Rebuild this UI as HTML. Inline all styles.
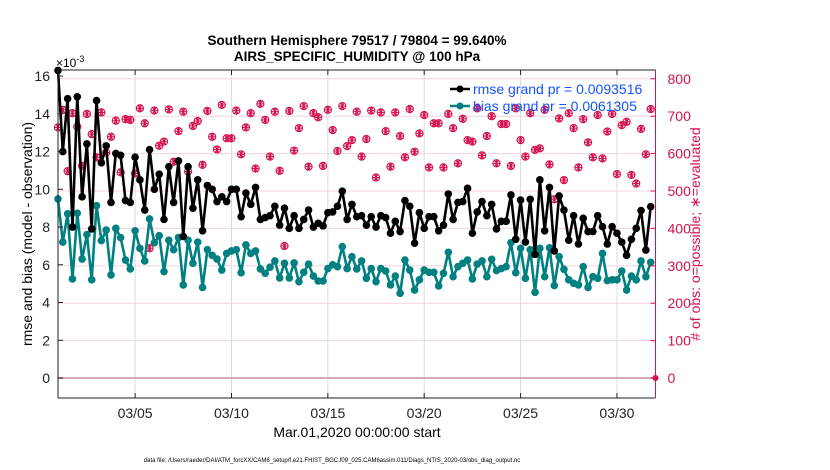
<!DOCTYPE html>
<html><head><meta charset="utf-8"><style>
html,body{margin:0;padding:0;background:#fff}
svg{display:block;font-family:"Liberation Sans",Arial,sans-serif}
</style></head><body>
<svg id="chart" width="830" height="470" viewBox="0 0 830 470" xmlns="http://www.w3.org/2000/svg">
<g id="grid"></g>
<g id="series"></g>
<g id="axes"></g>
<text x="357" y="45" text-anchor="middle" font-size="13.5" font-weight="bold">Southern Hemisphere 79517 / 79804 = 99.640%</text>
<text x="357" y="61" text-anchor="middle" font-size="13.5" font-weight="bold">AIRS_SPECIFIC_HUMIDITY @ 100 hPa</text>
<text x="56" y="67" font-size="12">×10<tspan dy="-5" font-size="9">-3</tspan></text>
<text transform="translate(32,234) rotate(-90)" text-anchor="middle" font-size="14">rmse and bias (model - observation)</text>
<text transform="translate(700,234) rotate(-90)" text-anchor="middle" font-size="14" fill="#d4124e"># of obs: o=possible; ∗=evaluated</text>
<text x="357" y="437" text-anchor="middle" font-size="14">Mar.01,2020 00:00:00 start</text>
<text x="332" y="462" text-anchor="middle" font-size="6">data file: /Users/raeder/DAI/ATM_forcXX/CAM6_setup/f.e21.FHIST_BGC.f09_025.CAM6assim.011/Diags_NTrS_2020-03/obs_diag_output.nc</text>
<g>
<line x1="450" y1="89" x2="470" y2="89" stroke="#000" stroke-width="2.5"/><circle cx="460" cy="89" r="3.5" fill="#000"/>
<text x="473" y="94" font-size="14" fill="#1452ff">rmse grand pr = 0.0093516</text>
<line x1="450" y1="106" x2="470" y2="106" stroke="#008080" stroke-width="2.5"/><circle cx="460" cy="106" r="3.5" fill="#008080"/>
<text x="473" y="111" font-size="14" fill="#1452ff">bias grand pr = 0.0061305</text>
</g>
</svg>
<script>
const rmse=[16.3,12.0,14.8,8.0,14.9,9.6,12.4,7.9,14.7,11.4,12.3,9.3,11.9,11.8,9.4,9.3,11.7,10.5,8.9,12.1,10.0,10.8,8.4,11.2,9.3,11.5,7.5,11.2,9.0,10.5,7.8,10.2,10.0,9.35,9.6,9.35,10.0,10.0,8.55,9.8,9.2,10.1,8.4,8.5,8.6,9.1,8.1,9.0,7.93,8.6,7.93,8.4,8.9,8.0,8.2,8.06,8.76,8.8,9.1,9.9,8.4,9.2,8.55,8.6,8.1,8.55,8.0,8.6,8.5,7.67,8.3,7.76,9.4,9.1,7.14,8.76,7.93,8.55,8.55,7.8,8.1,9.75,8.4,9.3,9.35,10.05,7.67,8.8,9.35,8.6,9.2,7.9,8.3,8.3,9.7,7.35,9.43,7.2,9.47,6.55,10.5,7.8,10.1,6.73,9.65,8.9,7.3,8.6,7.1,8.46,7.76,7.76,8.6,8.02,7.1,8.02,7.67,7.2,6.5,7.35,7.93,8.87,6.78,9.08];
const bias=[9.49,7.2,8.7,5.25,8.73,6.3,7.6,5.2,9.13,7.28,7.84,5.46,7.93,7.44,6.25,5.78,7.8,6.87,6.2,8.43,7.17,7.54,5.64,7.3,6.8,7.44,4.93,7.3,6.08,7.2,4.8,6.8,6.5,6.3,5.72,6.6,6.73,6.8,5.58,7.05,6.6,6.73,5.78,5.55,5.87,6.2,5.3,6.08,5.3,6.1,5.1,5.6,6.03,5.4,5.14,5.14,5.8,6.0,5.9,6.96,5.8,6.43,5.78,6.2,5.28,5.8,5.1,5.8,5.67,4.93,5.4,4.49,6.25,5.72,4.66,5.2,5.72,5.6,5.6,4.88,5.55,6.66,5.37,5.9,6.08,6.25,5.25,6.04,6.2,5.37,6.29,5.69,5.8,5.9,7.17,5.58,6.87,5.28,6.8,4.54,6.87,5.37,6.9,4.9,6.43,5.76,5.2,5.02,4.93,5.9,4.8,5.37,5.28,6.6,5.16,5.2,5.2,5.67,4.66,5.4,5.2,6.2,5.37,6.13];
const obsCount=[670,717,553,708,672,567,706,652,590,710,603,645,688,550,692,690,547,721,681,347,715,621,632,718,578,660,712,552,674,687,570,714,645,611,730,641,641,715,598,670,708,560,733,690,592,712,554,353,714,608,668,727,565,708,697,567,717,663,607,727,620,636,712,592,639,715,536,710,660,565,710,647,590,719,605,654,703,563,681,681,563,706,668,574,693,636,632,721,595,647,700,574,679,679,567,721,636,592,708,610,614,717,571,478,694,529,708,668,563,692,630,590,703,587,659,706,545,676,685,543,520,666,598,719];
const leftTicks=[0,2,4,6,8,10,12,14,16];
const rightTicks=[0,100,200,300,400,500,600,700,800];
const xTickDays=[4,9,14,19,24,29];
const xTickLabels=["03/05","03/10","03/15","03/20","03/25","03/30"];
const stepDays=0.25;

const X0=58,X1=655.5,Y0=70,Y1=398;
function xs(d){return X0+(d/31)*(X1-X0);}
function yl(v){return Y1-(v-(-1.06))/(16.32+1.06)*(Y1-Y0);}
function yr(v){return Y1-(v-(-53.5))/(823.5+53.5)*(Y1-Y0);}
const NS="http://www.w3.org/2000/svg";
function mk(tag,attrs,parent){const e=document.createElementNS(NS,tag);for(const k in attrs)e.setAttribute(k,attrs[k]);parent.appendChild(e);return e;}
const grid=document.getElementById('grid'),series=document.getElementById('series'),axes=document.getElementById('axes');
const RED="#d4124e";

rightTicks.forEach(v=>{if(v===0)return;const l=mk('line',{x1:X0,x2:X1,y1:yr(v),y2:yr(v),stroke:"#f6d3df","stroke-width":1},grid);

});
xTickDays.forEach(d=>{const l=mk('line',{x1:xs(d),x2:xs(d),y1:Y0,y2:Y1,stroke:"#dcdcdc","stroke-width":1},grid);

});
const zl=mk('line',{x1:X0,x2:X1,y1:yl(0),y2:yl(0),stroke:"#d8a8b4","stroke-width":2},grid);



obsCount.forEach((n,i)=>{const cx=xs(i*stepDays),cy=yr(n);
const g=mk('g',{stroke:RED,"stroke-width":1.1,fill:"none"},series);


mk('circle',{cx:cx,cy:cy,r:3.6},g);
for(let a=0;a<3;a++){const t=a*Math.PI/3;mk('line',{x1:cx-3.6*Math.cos(t),y1:cy-3.6*Math.sin(t),x2:cx+3.6*Math.cos(t),y2:cy+3.6*Math.sin(t)},g);}
mk('line',{x1:cx,y1:cy-3.6,x2:cx,y2:cy+3.6},g);});
const z=mk('circle',{cx:X1,cy:yr(0),r:3,fill:RED},series);



function drawLine(arr,color,name){
 const pts=arr.map((v,i)=>xs(i*stepDays).toFixed(1)+","+yl(v).toFixed(1)).join(" ");
 const pl=mk('polyline',{points:pts,fill:"none",stroke:color,"stroke-width":2.6,"stroke-linejoin":"round"},series);
 
 
 arr.forEach((v,i)=>{const c=mk('circle',{cx:xs(i*stepDays),cy:yl(v),r:3.8,fill:color},series);
 
 });
}
drawLine(bias,"#008080","bias");
drawLine(rmse,"#000000","rmse");

mk('line',{x1:X0,x2:X1,y1:Y0,y2:Y0,stroke:"#222","stroke-width":1},axes);
mk('line',{x1:X0,x2:X1,y1:Y1,y2:Y1,stroke:"#222","stroke-width":1},axes);
mk('line',{x1:X0,x2:X0,y1:Y0,y2:Y1,stroke:"#222","stroke-width":1},axes);
mk('line',{x1:X1,x2:X1,y1:Y0,y2:Y1,stroke:RED,"stroke-width":1},axes);
xTickDays.forEach((d,i)=>{const x=xs(d);
mk('line',{x1:x,x2:x,y1:Y1,y2:Y1-5,stroke:"#222"},axes);
mk('line',{x1:x,x2:x,y1:Y0,y2:Y0+5,stroke:"#222"},axes);
const t=mk('text',{x:x,y:Y1+20,"text-anchor":"middle","font-size":14,fill:"#222"},axes);t.textContent=xTickLabels[i];

});
leftTicks.forEach(v=>{const y=yl(v);
mk('line',{x1:X0,x2:X0+5,y1:y,y2:y,stroke:"#222"},axes);
const t=mk('text',{x:X0-8,y:y+5,"text-anchor":"end","font-size":14,fill:"#222"},axes);t.textContent=v;

});
rightTicks.forEach(v=>{const y=yr(v);
mk('line',{x1:X1,x2:X1-5,y1:y,y2:y,stroke:RED},axes);
const t=mk('text',{x:X1+12,y:y+5,"text-anchor":"start","font-size":14,fill:RED},axes);t.textContent=v;

});
</script>
</body></html>
